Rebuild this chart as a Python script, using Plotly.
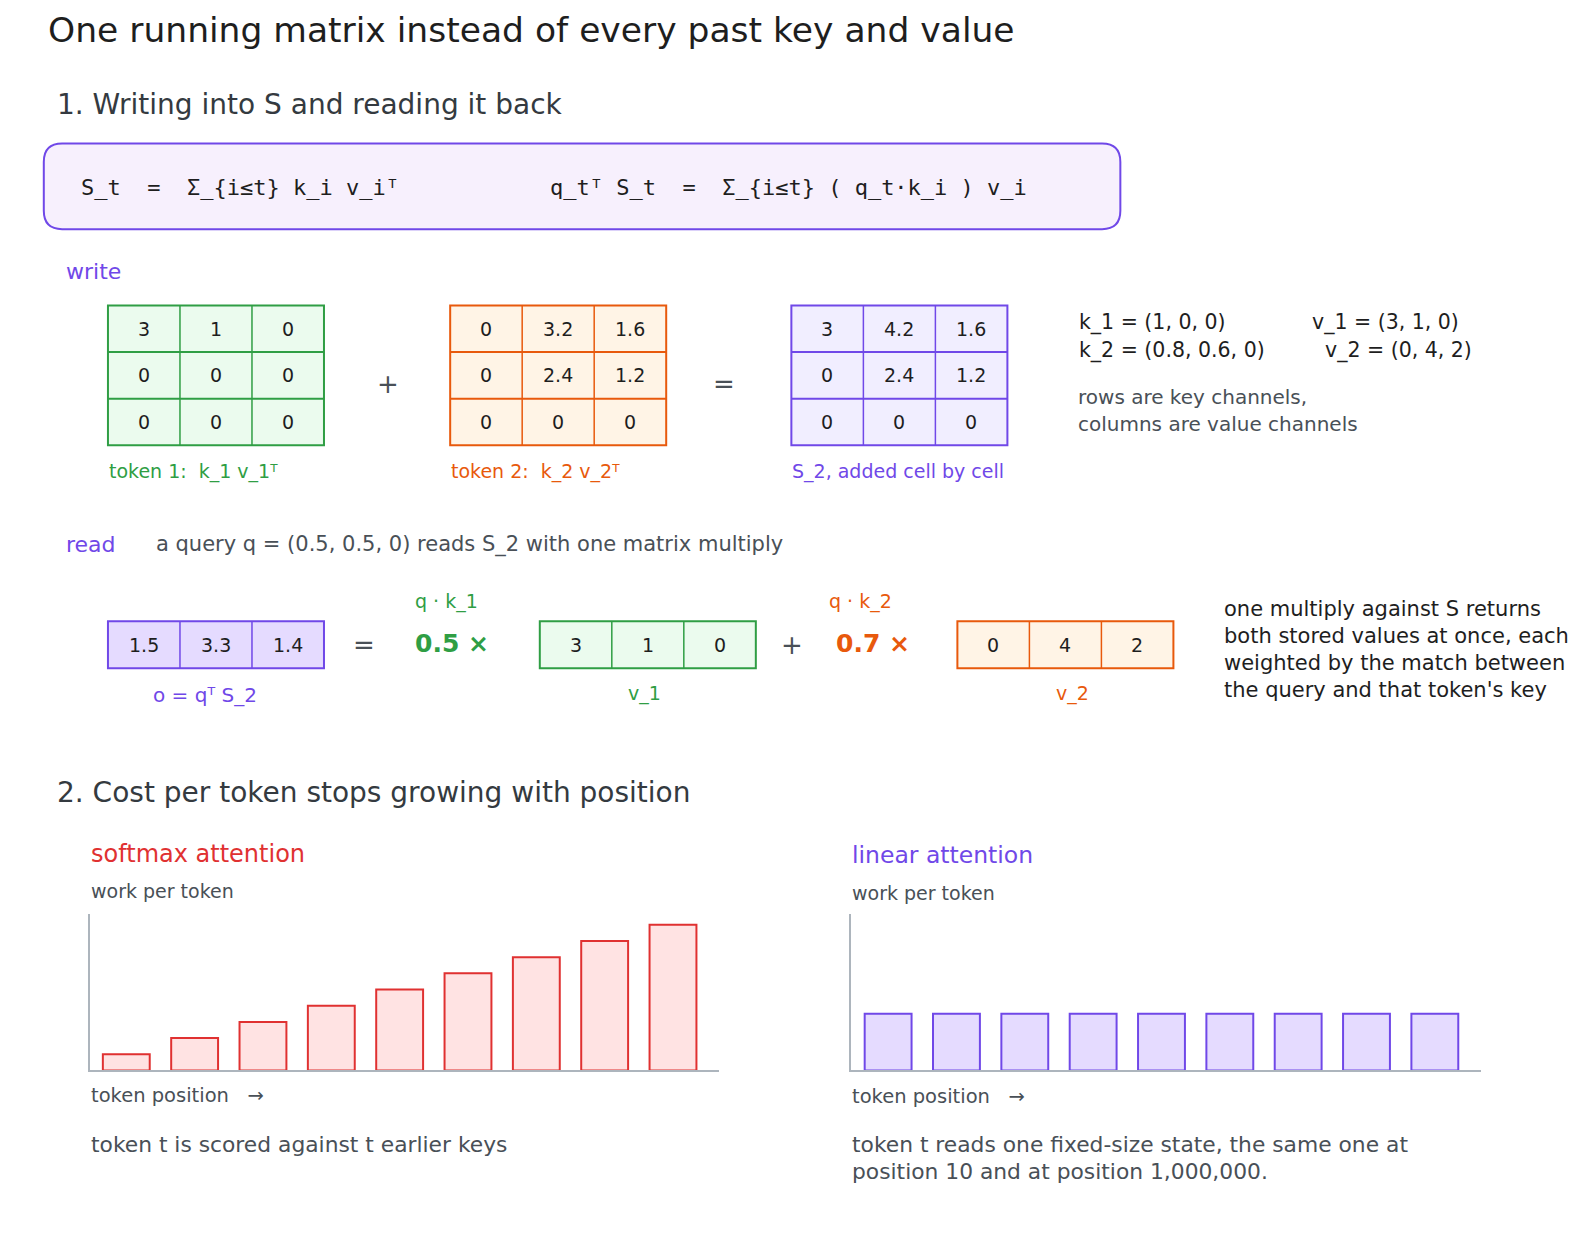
import plotly.graph_objects as go

# ---- data ----
token1_kv = [[3, 1, 0], [0, 0, 0], [0, 0, 0]]
token2_kv = [[0, 3.2, 1.6], [0, 2.4, 1.2], [0, 0, 0]]
state_s2 = [[3, 4.2, 1.6], [0, 2.4, 1.2], [0, 0, 0]]
out_o = [1.5, 3.3, 1.4]
v_1 = [3, 1, 0]
v_2 = [0, 4, 2]
match_weights = [0.5, 0.7]
positions = [1, 2, 3, 4, 5, 6, 7, 8, 9]
softmax_work = [1, 2, 3, 4, 5, 6, 7, 8, 9]
linear_work = [3.5, 3.5, 3.5, 3.5, 3.5, 3.5, 3.5, 3.5, 3.5]

FONT = "DejaVu Sans"
MONO = "DejaVu Sans Mono"
DARK = "#1e1e1e"
GRAY = "#495057"
VIOLET = "#7048e8"
GREEN = "#2f9e44"
ORANGE = "#e8590c"
RED = "#e03131"

# page is 1596x1236 with an 8px body margin; layout units below are
# page pixels divided by S
PAD = 8
W, H = 1596, 1236
FW, FH = W - 2 * PAD, H - 2 * PAD
S = 1.0185

fig = go.Figure()
fig.add_trace(go.Scatter(x=[PAD / S, (W - PAD) / S], y=[PAD / S, (H - PAD) / S], mode="markers",
                         marker=dict(opacity=0), hoverinfo="skip", showlegend=False))

shapes = []
annotations = []


def txt(x, y, s, size=17, color=GRAY, anchor="left", weight="normal", family=FONT):
    annotations.append(dict(x=x, y=y, xref="x", yref="y", text=s, showarrow=False,
                            xanchor=anchor, yanchor="middle",
                            font=dict(family=family, size=size, color=color, weight=weight)))


def fmt(v):
    return f"{v:g}"


def draw_matrix(x0, y0, values, cw, ch, fill, line):
    rows = len(values)
    cols = len(values[0])
    shapes.append(dict(type="rect", xref="x", yref="y", x0=x0, y0=y0,
                       x1=x0 + cols * cw, y1=y0 + rows * ch,
                       fillcolor=fill, line=dict(color=line, width=2), layer="below"))
    for c in range(1, cols):
        shapes.append(dict(type="line", xref="x", yref="y", x0=x0 + c * cw, x1=x0 + c * cw,
                           y0=y0, y1=y0 + rows * ch, line=dict(color=line, width=1.5)))
    for r in range(1, rows):
        shapes.append(dict(type="line", xref="x", yref="y", x0=x0, x1=x0 + cols * cw,
                           y0=y0 + r * ch, y1=y0 + r * ch, line=dict(color=line, width=2)))
    for r in range(rows):
        for c in range(cols):
            txt(x0 + (c + 0.5) * cw, y0 + (r + 0.5) * ch, fmt(values[r][c]),
                size=19, color=DARK, anchor="center")


# ---- titles ----
txt(45, 29, "One running matrix instead of every past key and value", size=34.5, color=DARK)
txt(54, 103, "1. Writing into S and reading it back", size=28, color="#343a40")

# formula box
shapes.append(dict(type="path", xref="x", yref="y",
                   path="M 61,141 L 1082,141 Q 1100,141 1100,159 L 1100,207 Q 1100,225 1082,225 "
                        "L 61,225 Q 43,225 43,207 L 43,159 Q 43,141 61,141 Z",
                   fillcolor="#f7f0fd", line=dict(color=VIOLET, width=2), layer="below"))
txt(78, 184, "S_t  =  Σ_{i≤t} k_i v_iᵀ", size=22, color=DARK, family=MONO)
txt(538, 184, "q_tᵀ S_t  =  Σ_{i≤t} ( q_t·k_i ) v_i", size=22, color=DARK, family=MONO)

# ---- write ----
txt(63, 267, "write", size=22, color=VIOLET)
CW, CH = 70.7, 45.7
draw_matrix(106, 300, token1_kv, CW, CH, "#ebfbee", GREEN)
draw_matrix(442, 300, token2_kv, CW, CH, "#fff4e6", ORANGE)
draw_matrix(777, 300, state_s2, CW, CH, "#f1eeff", VIOLET)
txt(381, 377, "+", size=26, color=GRAY, anchor="center")
txt(711, 377, "=", size=26, color=GRAY, anchor="center")
txt(105, 463, "token 1:  k_1 v_1ᵀ", size=19, color=GREEN)
txt(441, 463, "token 2:  k_2 v_2ᵀ", size=19, color=ORANGE)
txt(776, 463, "S_2, added cell by cell", size=19, color=VIOLET)

txt(1057, 317, "k_1 = (1, 0, 0)", size=20.5, color=DARK)
txt(1286, 317, "v_1 = (3, 1, 0)", size=20.5, color=DARK)
txt(1057, 344, "k_2 = (0.8, 0.6, 0)", size=20.5, color=DARK)
txt(1299, 344, "v_2 = (0, 4, 2)", size=20.5, color=DARK)
txt(1056, 390, "rows are key channels,", size=20, color=GRAY)
txt(1056, 416, "columns are value channels", size=20, color=GRAY)

# ---- read ----
txt(63, 535, "read", size=22, color=VIOLET)
txt(151, 535, "a query q = (0.5, 0.5, 0) reads S_2 with one matrix multiply", size=21, color=GRAY)

draw_matrix(106, 610, [out_o], CW, 46, "#e5dbff", VIOLET)
txt(357, 633, "=", size=26, color=GRAY, anchor="center")
txt(444, 632, f"{fmt(match_weights[0])} ×", size=25, color=GREEN, anchor="center", weight="bold")
txt(438, 591, "q · k_1", size=19, color=GREEN, anchor="center")
draw_matrix(530, 610, [v_1], CW, 46, "#ebfbee", GREEN)
txt(778, 633, "+", size=26, color=GRAY, anchor="center")
txt(857, 632, f"{fmt(match_weights[1])} ×", size=25, color=ORANGE, anchor="center", weight="bold")
txt(845, 591, "q · k_2", size=19, color=ORANGE, anchor="center")
draw_matrix(940, 610, [v_2], CW, 46, "#fff4e6", ORANGE)
txt(201, 682, "o = qᵀ S_2", size=20, color=VIOLET, anchor="center")
txt(633, 681, "v_1", size=19, color=GREEN, anchor="center")
txt(1053, 681, "v_2", size=19, color=ORANGE, anchor="center")

txt(1200, 598, "one multiply against S returns", size=21, color=DARK)
txt(1200, 624, "both stored values at once, each", size=21, color=DARK)
txt(1200, 651, "weighted by the match between", size=21, color=DARK)
txt(1200, 677, "the query and that token's key", size=21, color=DARK)

# ---- section 2 ----
txt(54, 778, "2. Cost per token stops growing with position", size=28, color="#343a40")

txt(87, 838, "softmax attention", size=24, color=RED)
txt(87, 875, "work per token", size=19, color=GRAY)
txt(87, 1076, "token position   →", size=19.5, color=GRAY)
txt(87, 1124, "token t is scored against t earlier keys", size=21.8, color=GRAY)

txt(835, 839, "linear attention", size=23.5, color=VIOLET)
txt(835, 877, "work per token", size=19, color=GRAY)
txt(835, 1077, "token position   →", size=19.5, color=GRAY)
txt(835, 1124, "token t reads one fixed-size state, the same one at", size=21.8, color=GRAY)
txt(835, 1150, "position 10 and at position 1,000,000.", size=21.8, color=GRAY)

fig.add_trace(go.Bar(x=positions, y=softmax_work, width=0.686, xaxis="x2", yaxis="y2",
                     marker=dict(color="#ffe3e3", line=dict(color=RED, width=2)),
                     hoverinfo="skip", showlegend=False))
fig.add_trace(go.Bar(x=positions, y=linear_work, width=0.686, xaxis="x3", yaxis="y3",
                     marker=dict(color="#e5dbff", line=dict(color=VIOLET, width=2)),
                     hoverinfo="skip", showlegend=False))


def xdom(a, b):
    return [(a * S - PAD) / FW, (b * S - PAD) / FW]


ydom = [(H - PAD - 1051 * S) / FH, (H - PAD - 897 * S) / FH]
bar_axis = dict(showgrid=False, zeroline=False, showticklabels=False, ticks="",
                showline=True, linecolor="#adb5bd", linewidth=2, fixedrange=True)

fig.update_layout(
    width=FW, height=FH,
    margin=dict(l=0, r=0, t=0, b=0),
    paper_bgcolor="white", plot_bgcolor="rgba(0,0,0,0)",
    xaxis=dict(range=[PAD / S, (W - PAD) / S], domain=[0, 1], visible=False, fixedrange=True),
    yaxis=dict(range=[(H - PAD) / S, PAD / S], domain=[0, 1], visible=False, fixedrange=True),
    xaxis2=dict(bar_axis, range=[0.4635, 9.674], domain=xdom(88, 706), anchor="y2"),
    yaxis2=dict(bar_axis, range=[0, 9.69], domain=ydom, anchor="x2"),
    xaxis3=dict(bar_axis, range=[0.4635, 9.674], domain=xdom(836, 1454), anchor="y3"),
    yaxis3=dict(bar_axis, range=[0, 9.69], domain=ydom, anchor="x3"),
    shapes=shapes,
    annotations=annotations,
)

fig.write_html("out.html")
